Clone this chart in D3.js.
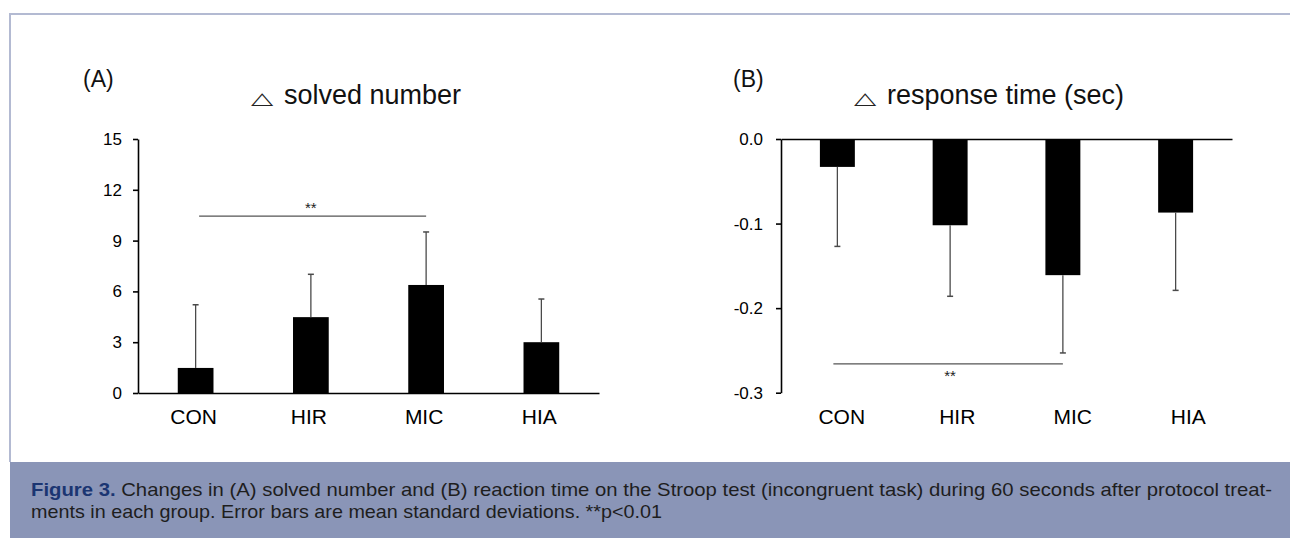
<!DOCTYPE html>
<html><head><meta charset="utf-8">
<script src="https://cdn.jsdelivr.net/npm/d3@7"></script>
<style>body{margin:0;background:#fff} svg{display:block}</style>
</head><body>
<svg id="c" width="1290" height="538"></svg>
<script>
// ---- data ----
const categories = ["CON", "HIR", "MIC", "HIA"];
const solvedMean = [1.48, 4.48, 6.38, 3.0];
const solvedSD = [3.73, 2.53, 3.13, 2.55];
const solvedTicks = [0, 3, 6, 9, 12, 15];
const solvedTickLabels = ["0", "3", "6", "9", "12", "15"];
const responseMean = [-0.033, -0.102, -0.161, -0.087];
const responseSD = [0.094, 0.084, 0.092, 0.092];
const responseTicks = [0, -0.1, -0.2, -0.3];
const responseTickLabels = ["0.0", "-0.1", "-0.2", "-0.3"];
const sigA = {from: "CON", to: "MIC", value: 10.45, label: "**"};
const sigB = {from: "CON", to: "MIC", value: -0.266, label: "**"};
const captionBold = "Figure 3.";
const captionLine1 = " Changes in (A) solved number and (B) reaction time on the Stroop test (incongruent task) during 60 seconds after protocol treat-";
const captionLine2 = "ments in each group. Error bars are mean standard deviations. **p<0.01";

const svg = d3.select("#c");
const FONT = "'Liberation Sans', Arial, sans-serif";

// frame
svg.append("rect").attr("x", 0).attr("y", 0).attr("width", 1290).attr("height", 538).attr("fill", "#fff");
svg.append("line").attr("x1", 10).attr("x2", 1290).attr("y1", 14).attr("y2", 14)
  .attr("stroke", "#b3bad2").attr("stroke-width", 2);
svg.append("line").attr("x1", 10).attr("x2", 10).attr("y1", 13).attr("y2", 462)
  .attr("stroke", "#b3bad2").attr("stroke-width", 2);

function panel(cfg) {
  const g = svg.append("g");
  const x = d3.scaleBand().domain(categories).range([cfg.x0, cfg.x1])
    .paddingInner(0.69).paddingOuter(0.345);
  const xl = d3.scaleBand().domain(categories).range(cfg.labelRange);
  const y = d3.scaleLinear().domain(cfg.domain).range([cfg.yBot, cfg.yTop]);
  const data = categories.map((c, i) => ({c, m: cfg.mean[i], s: cfg.sd[i]}));

  // bars
  g.selectAll("rect.bar").data(data).join("rect").attr("class", "bar")
    .attr("x", d => x(d.c)).attr("width", x.bandwidth())
    .attr("y", d => Math.min(y(d.m), y(0)))
    .attr("height", d => Math.abs(y(d.m) - y(0)))
    .attr("fill", "#000");

  // error bars (one-sided)
  const cap = 3;
  data.forEach(d => {
    const cx = x(d.c) + x.bandwidth() / 2;
    const end = d.m >= 0 ? d.m + d.s : d.m - d.s;
    g.append("line").attr("x1", cx).attr("x2", cx).attr("y1", y(d.m)).attr("y2", y(end))
      .attr("stroke", "#4a4a4a").attr("stroke-width", 1.3);
    g.append("line").attr("x1", cx - cap).attr("x2", cx + cap).attr("y1", y(end)).attr("y2", y(end))
      .attr("stroke", "#4a4a4a").attr("stroke-width", 1.5);
  });

  // y axis
  const ya = g.append("g").attr("transform", `translate(${cfg.x0},0)`)
    .call(d3.axisLeft(y).tickValues(cfg.ticks).tickFormat((d, i) => cfg.tickLabels[i])
      .tickSize(5).tickSizeOuter(0).tickPadding(cfg.tickPad));
  ya.select(".domain").attr("stroke", "#000").attr("stroke-width", 1.6);
  ya.selectAll(".tick line").attr("stroke", "#000").attr("stroke-width", 1.6);
  ya.selectAll(".tick text").attr("font-family", FONT).attr("font-size", 17).attr("fill", "#000");

  // x axis line at zero
  const xa = g.append("g").attr("transform", `translate(0,${y(0)})`)
    .call(d3.axisBottom(x).tickSize(0).tickSizeOuter(0).tickFormat(""));
  xa.select(".domain").attr("stroke", "#000").attr("stroke-width", 1.6);

  // category labels
  g.selectAll("text.cat").data(categories).join("text").attr("class", "cat")
    .attr("x", c => xl(c) + xl.bandwidth() / 2).attr("y", 424)
    .attr("text-anchor", "middle").attr("font-family", FONT).attr("font-size", 21)
    .attr("fill", "#000").text(c => c);

  // significance bracket
  const s = cfg.sig;
  const sx1 = x(s.from) + x.bandwidth() / 2 + cfg.sigShift;
  const sx2 = x(s.to) + x.bandwidth() / 2;
  g.append("line").attr("x1", sx1).attr("x2", sx2).attr("y1", y(s.value)).attr("y2", y(s.value))
    .attr("stroke", "#555").attr("stroke-width", 1.2);
  g.append("text").attr("x", (x(s.from) + x(s.to) + x.bandwidth()) / 2)
    .attr("y", y(s.value) + cfg.starDy).attr("text-anchor", "middle")
    .attr("font-family", FONT).attr("font-size", 15).attr("fill", "#222").text(s.label);

  // panel letter and title
  g.append("text").attr("x", cfg.letterX).attr("y", 87).attr("font-family", FONT)
    .attr("font-size", 23).attr("fill", "#111").text(cfg.letter);
  g.append("text").attr("transform", `translate(${cfg.triX},104) scale(1,0.58)`)
    .attr("font-family", "'DejaVu Sans'").attr("font-size", 29).attr("fill", "#222").text("△");
  g.append("text").attr("x", cfg.titleX).attr("y", 104).attr("font-family", FONT)
    .attr("font-size", 27).attr("fill", "#111").text(cfg.title);
}

panel({
  x0: 138, x1: 599, yTop: 139, yBot: 393, domain: [0, 15],
  labelRange: [136, 597],
  mean: solvedMean, sd: solvedSD, ticks: solvedTicks, tickLabels: solvedTickLabels, tickPad: 11,
  sig: sigA, sigShift: 3.5, starDy: -3.5,
  letter: "(A)", letterX: 83, triX: 251, titleX: 284, title: "solved number"
});
panel({
  x0: 781, x1: 1232, yTop: 139, yBot: 392.7, domain: [-0.3, 0],
  labelRange: [784, 1246],
  mean: responseMean, sd: responseSD, ticks: responseTicks, tickLabels: responseTickLabels, tickPad: 13,
  sig: sigB, sigShift: -4, starDy: 17,
  letter: "(B)", letterX: 733, triX: 854, titleX: 887, title: "response time (sec)"
});

// caption band
svg.append("rect").attr("x", 10).attr("y", 462).attr("width", 1280).attr("height", 76).attr("fill", "#8a95b7");
const t1 = svg.append("text").attr("x", 31).attr("y", 496).attr("font-family", FONT).attr("font-size", 19)
  .attr("fill", "#1e1e1e").attr("textLength", 1241).attr("lengthAdjust", "spacingAndGlyphs");
t1.append("tspan").attr("font-weight", "bold").attr("fill", "#1b3572").text(captionBold);
t1.append("tspan").text(captionLine1);
svg.append("text").attr("x", 31).attr("y", 518).attr("font-family", FONT).attr("font-size", 19)
  .attr("fill", "#1e1e1e").attr("textLength", 631).attr("lengthAdjust", "spacingAndGlyphs").text(captionLine2);
</script>
</body></html>
